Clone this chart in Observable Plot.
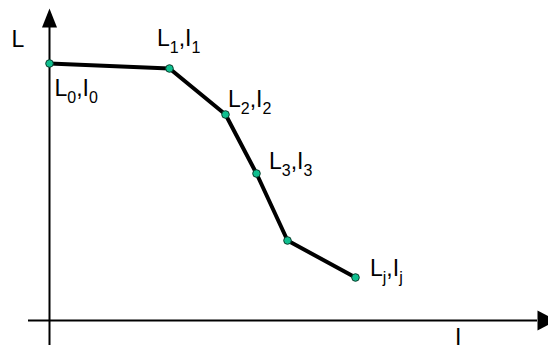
<!DOCTYPE html>
<html><head><meta charset="utf-8">
<script src="https://cdn.jsdelivr.net/npm/d3@7"></script>
<script src="https://cdn.jsdelivr.net/npm/@observablehq/plot@0.6"></script>
<style>html,body{margin:0;padding:0;background:#fff} svg{display:block}</style>
</head><body><div id="chart"></div>
<script>
// Data (abstract units)
const iValues = [0, 12.0, 17.6, 20.7, 23.8, 30.6];
const lValues = [25.7, 25.2, 20.6, 14.7, 8.0, 4.3];
const pointLabels = ["L_0,I_0", "L_1,I_1", "L_2,I_2", "L_3,I_3", "", "L_j,I_j"];
const xAxisExtent = [-2.1, 48.8];
const yAxisExtent = [-2.6, 29.3];

// layout for label offsets (px, relative to point; baseline anchor)
const labelOffsets = [[5, 32], [-12.5, -23], [2.5, -8], [12.5, -5], [0, 0], [14.5, -2]];

const points = iValues.map((x, k) => ({x, y: lValues[k], label: pointLabels[k], k}));

const arrowUp = {draw(ctx) { ctx.moveTo(0, -19); ctx.lineTo(7.5, 0); ctx.lineTo(-7.5, 0); ctx.closePath(); }};
const arrowRight = {draw(ctx) { ctx.moveTo(19, 0); ctx.lineTo(0, 10); ctx.lineTo(0, -10); ctx.closePath(); }};

const font = "Liberation Sans, Arial, sans-serif";

const labelMarks = points.filter(p => p.label).map(p => Plot.text([p], {
  x: "x", y: "y", text: "label", textAnchor: "start", lineAnchor: "bottom",
  dx: labelOffsets[p.k][0], dy: labelOffsets[p.k][1], fontSize: 23, fill: "black"
}));

const chart = Plot.plot({
  width: 548, height: 345,
  marginLeft: 49, marginRight: 0, marginTop: 0, marginBottom: 25,
  x: {domain: [0, 49.9], axis: null},
  y: {domain: [0, 32], axis: null},
  style: {fontFamily: font, background: "white"},
  marks: [
    Plot.ruleY([0], {x1: xAxisExtent[0], x2: xAxisExtent[1], stroke: "black", strokeWidth: 2}),
    Plot.ruleX([0], {y1: yAxisExtent[0], y2: yAxisExtent[1], stroke: "black", strokeWidth: 2}),
    Plot.dot([{x: 0, y: yAxisExtent[1]}], {x: "x", y: "y", symbol: arrowUp, fill: "black", stroke: "none"}),
    Plot.dot([{x: xAxisExtent[1], y: 0}], {x: "x", y: "y", symbol: arrowRight, fill: "black", stroke: "none"}),
    Plot.line(points, {x: "x", y: "y", stroke: "black", strokeWidth: 4, strokeLinejoin: "miter"}),
    Plot.dot(points, {x: "x", y: "y", r: 3.8, fill: "#0fbf8f", stroke: "#0a3d2c", strokeWidth: 1}),
    ...labelMarks,
    Plot.text(["L"], {frameAnchor: "top-left", dx: -38, dy: 46, textAnchor: "start", lineAnchor: "bottom", fontSize: 23, fill: "black"}),
    Plot.text(["I"], {frameAnchor: "bottom-left", dx: 405.5, dy: 24, textAnchor: "start", lineAnchor: "bottom", fontSize: 23, fill: "black"})
  ]
});

// Render subscripts: "X_s" -> X with subscript s
d3.select(chart).selectAll("text").each(function() {
  const t = this.textContent;
  if (!t.includes("_")) return;
  this.textContent = "";
  const re = /([^_]*)_(.)/g;
  let m, last = 0;
  const sel = d3.select(this);
  while ((m = re.exec(t))) {
    if (m[1]) sel.append("tspan").attr("dy", last ? -7 : null).text(m[1]);
    sel.append("tspan").attr("font-size", 16).attr("dy", 7).text(m[2]);
    last = 1;
  }
});

document.getElementById("chart").append(chart);
</script>
</body></html>
